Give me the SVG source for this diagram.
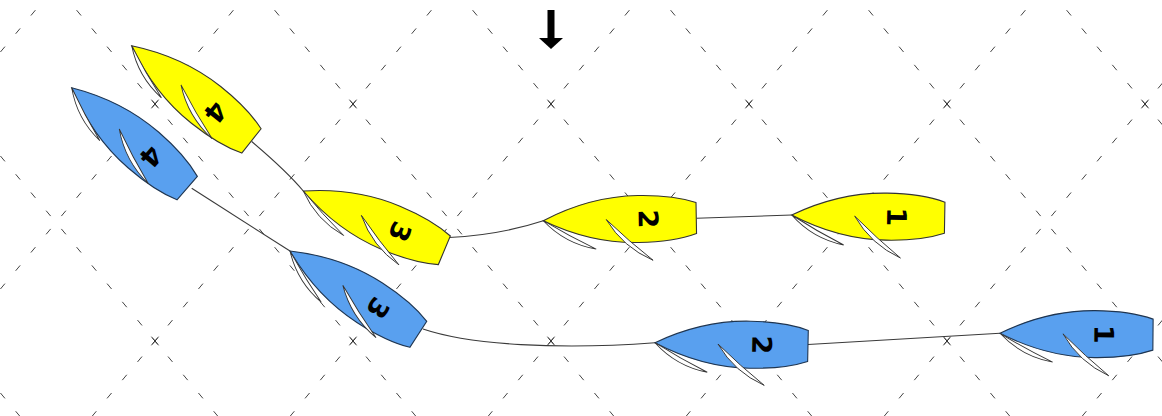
<svg xmlns="http://www.w3.org/2000/svg" xmlns:xlink="http://www.w3.org/1999/xlink" width="1162" height="416" viewBox="0 0 1162 416">
<style>
.grid line{stroke:#444;stroke-width:1;stroke-dasharray:7 16.756;stroke-dashoffset:10.516;fill:none}
.xm{stroke:#333;stroke-width:1;fill:none}
.track{stroke:#3a3a3a;stroke-width:1.1;fill:none}
.yellow{fill:#ffff00;stroke:#333;stroke-width:1.1}
.blue{fill:#59a0ef;stroke:#1f3550;stroke-width:1.1}
.sail{fill:#fff;stroke:#333;stroke-width:0.9}
.num{font-family:"DejaVu Sans",sans-serif;font-weight:bold;font-size:27px;fill:#000;text-anchor:middle}
</style>
<defs>
<path id="hull" d="M0,0 C28,-14 58,-23.5 95,-23.5 C122,-23.5 140,-20 153,-15.5 L153,15.5 C140,20 122,23.5 95,23.5 C58,23.5 28,14 0,0 Z"/>
<path id="jib" d="M0,0 Q30,10 60,0 Q30,1.5 0,0 Z"/>
<path id="main" d="M0,0 Q31,10 62,0 Q31,1.5 0,0 Z"/>
<path id="xmark" d="M-3.6,-4.3 L3.6,4.3 M3.6,-4.3 L-3.6,4.3"/>
</defs>
<rect width="1162" height="416" fill="#fff"/>
<g class="grid" id="grid">
<line x1="-327.89" y1="0" x2="19.66" y2="416"/>
<line x1="-129.89" y1="0" x2="217.66" y2="416"/>
<line x1="68.11" y1="0" x2="415.66" y2="416"/>
<line x1="266.11" y1="0" x2="613.66" y2="416"/>
<line x1="464.11" y1="0" x2="811.66" y2="416"/>
<line x1="662.11" y1="0" x2="1009.66" y2="416"/>
<line x1="860.11" y1="0" x2="1207.66" y2="416"/>
<line x1="1058.11" y1="0" x2="1405.66" y2="416"/>
<line x1="43.89" y1="0" x2="-303.66" y2="416"/>
<line x1="241.89" y1="0" x2="-105.66" y2="416"/>
<line x1="439.89" y1="0" x2="92.34" y2="416"/>
<line x1="637.89" y1="0" x2="290.34" y2="416"/>
<line x1="835.89" y1="0" x2="488.34" y2="416"/>
<line x1="1033.89" y1="0" x2="686.34" y2="416"/>
<line x1="1231.89" y1="0" x2="884.34" y2="416"/>
<line x1="1429.89" y1="0" x2="1082.34" y2="416"/>
</g>
<g class="xm" id="grid-marks">
<use xlink:href="#xmark" x="155" y="104"/>
<use xlink:href="#xmark" x="353" y="104"/>
<use xlink:href="#xmark" x="551" y="104"/>
<use xlink:href="#xmark" x="749" y="104"/>
<use xlink:href="#xmark" x="947" y="104"/>
<use xlink:href="#xmark" x="1145" y="104"/>
<use xlink:href="#xmark" x="155" y="341"/>
<use xlink:href="#xmark" x="353" y="341"/>
<use xlink:href="#xmark" x="551" y="341"/>
<use xlink:href="#xmark" x="947" y="341"/>
</g>
<g id="wind-arrow" fill="#000">
<rect x="547.5" y="10" width="7" height="29"/>
<polygon points="539,38 563,38 551,49"/>
</g>
<g class="track" id="connectors">
<path d="M696.5,218.3 L791.7,215"/>
<path d="M449,237.5 C480,236 515,230 543.3,220.7"/>
<path d="M251.7,141.5 C270,157 290,175 303.3,191"/>
<path d="M808,344.5 L1000,333.3"/>
<path d="M423,329 C470,345 560,350 655,342.7"/>
<path d="M191.7,188.3 L290,251"/>
</g>
<g id="yellow-1" transform="translate(791.7,215) rotate(1)">
<use xlink:href="#hull" class="yellow"/>
<use xlink:href="#jib" class="sail" transform="rotate(29)"/>
<use xlink:href="#main" class="sail" transform="translate(63,0) rotate(41.5)"/>
<text class="num" transform="translate(105,0) rotate(90)" y="9.7">1</text>
</g>
<g id="yellow-2" transform="translate(543.3,220.7) rotate(-1)">
<use xlink:href="#hull" class="yellow"/>
<use xlink:href="#jib" class="sail" transform="rotate(29.2)"/>
<use xlink:href="#main" class="sail" transform="translate(63,0) rotate(42)"/>
<text class="num" transform="translate(105,0) rotate(90)" y="9.7">2</text>
</g>
<g id="yellow-3" transform="translate(303.3,191) rotate(22.8)">
<use xlink:href="#hull" class="yellow"/>
<use xlink:href="#jib" class="sail" transform="rotate(25)"/>
<use xlink:href="#main" class="sail" transform="translate(63,0) rotate(30)"/>
<text class="num" transform="translate(105,0) rotate(90)" y="9.7">3</text>
</g>
<g id="yellow-4" transform="translate(131.7,45.7) rotate(38.5)">
<use xlink:href="#hull" class="yellow"/>
<use xlink:href="#jib" class="sail" transform="rotate(21.8)"/>
<use xlink:href="#main" class="sail" transform="translate(63,0) rotate(21.5)"/>
<text class="num" transform="translate(107,0) rotate(90)" y="9.7">4</text>
</g>
<g id="blue-1" transform="translate(1000,333.3) rotate(0.5)">
<use xlink:href="#hull" class="blue"/>
<use xlink:href="#jib" class="sail" transform="rotate(28.2)"/>
<use xlink:href="#main" class="sail" transform="translate(63,0) rotate(42)"/>
<text class="num" transform="translate(104,0) rotate(90)" y="9.7">1</text>
</g>
<g id="blue-2" transform="translate(655,342.7) rotate(1.2)">
<use xlink:href="#hull" class="blue"/>
<use xlink:href="#jib" class="sail" transform="rotate(28.3)"/>
<use xlink:href="#main" class="sail" transform="translate(63,0) rotate(40.6)"/>
<text class="num" transform="translate(107,0) rotate(90)" y="9.7">2</text>
</g>
<g id="blue-3" transform="translate(290,251) rotate(33)">
<use xlink:href="#hull" class="blue"/>
<use xlink:href="#jib" class="sail" transform="rotate(25.6)"/>
<use xlink:href="#main" class="sail" transform="translate(63,0) rotate(24.6)"/>
<text class="num" transform="translate(105,0) rotate(90)" y="9.7">3</text>
</g>
<g id="blue-4" transform="translate(71.7,87.7) rotate(41)">
<use xlink:href="#hull" class="blue"/>
<use xlink:href="#jib" class="sail" transform="rotate(21)"/>
<use xlink:href="#main" class="sail" transform="translate(63,0) rotate(21)"/>
<text class="num" transform="translate(105,0) rotate(90)" y="9.7">4</text>
</g>
</svg>
